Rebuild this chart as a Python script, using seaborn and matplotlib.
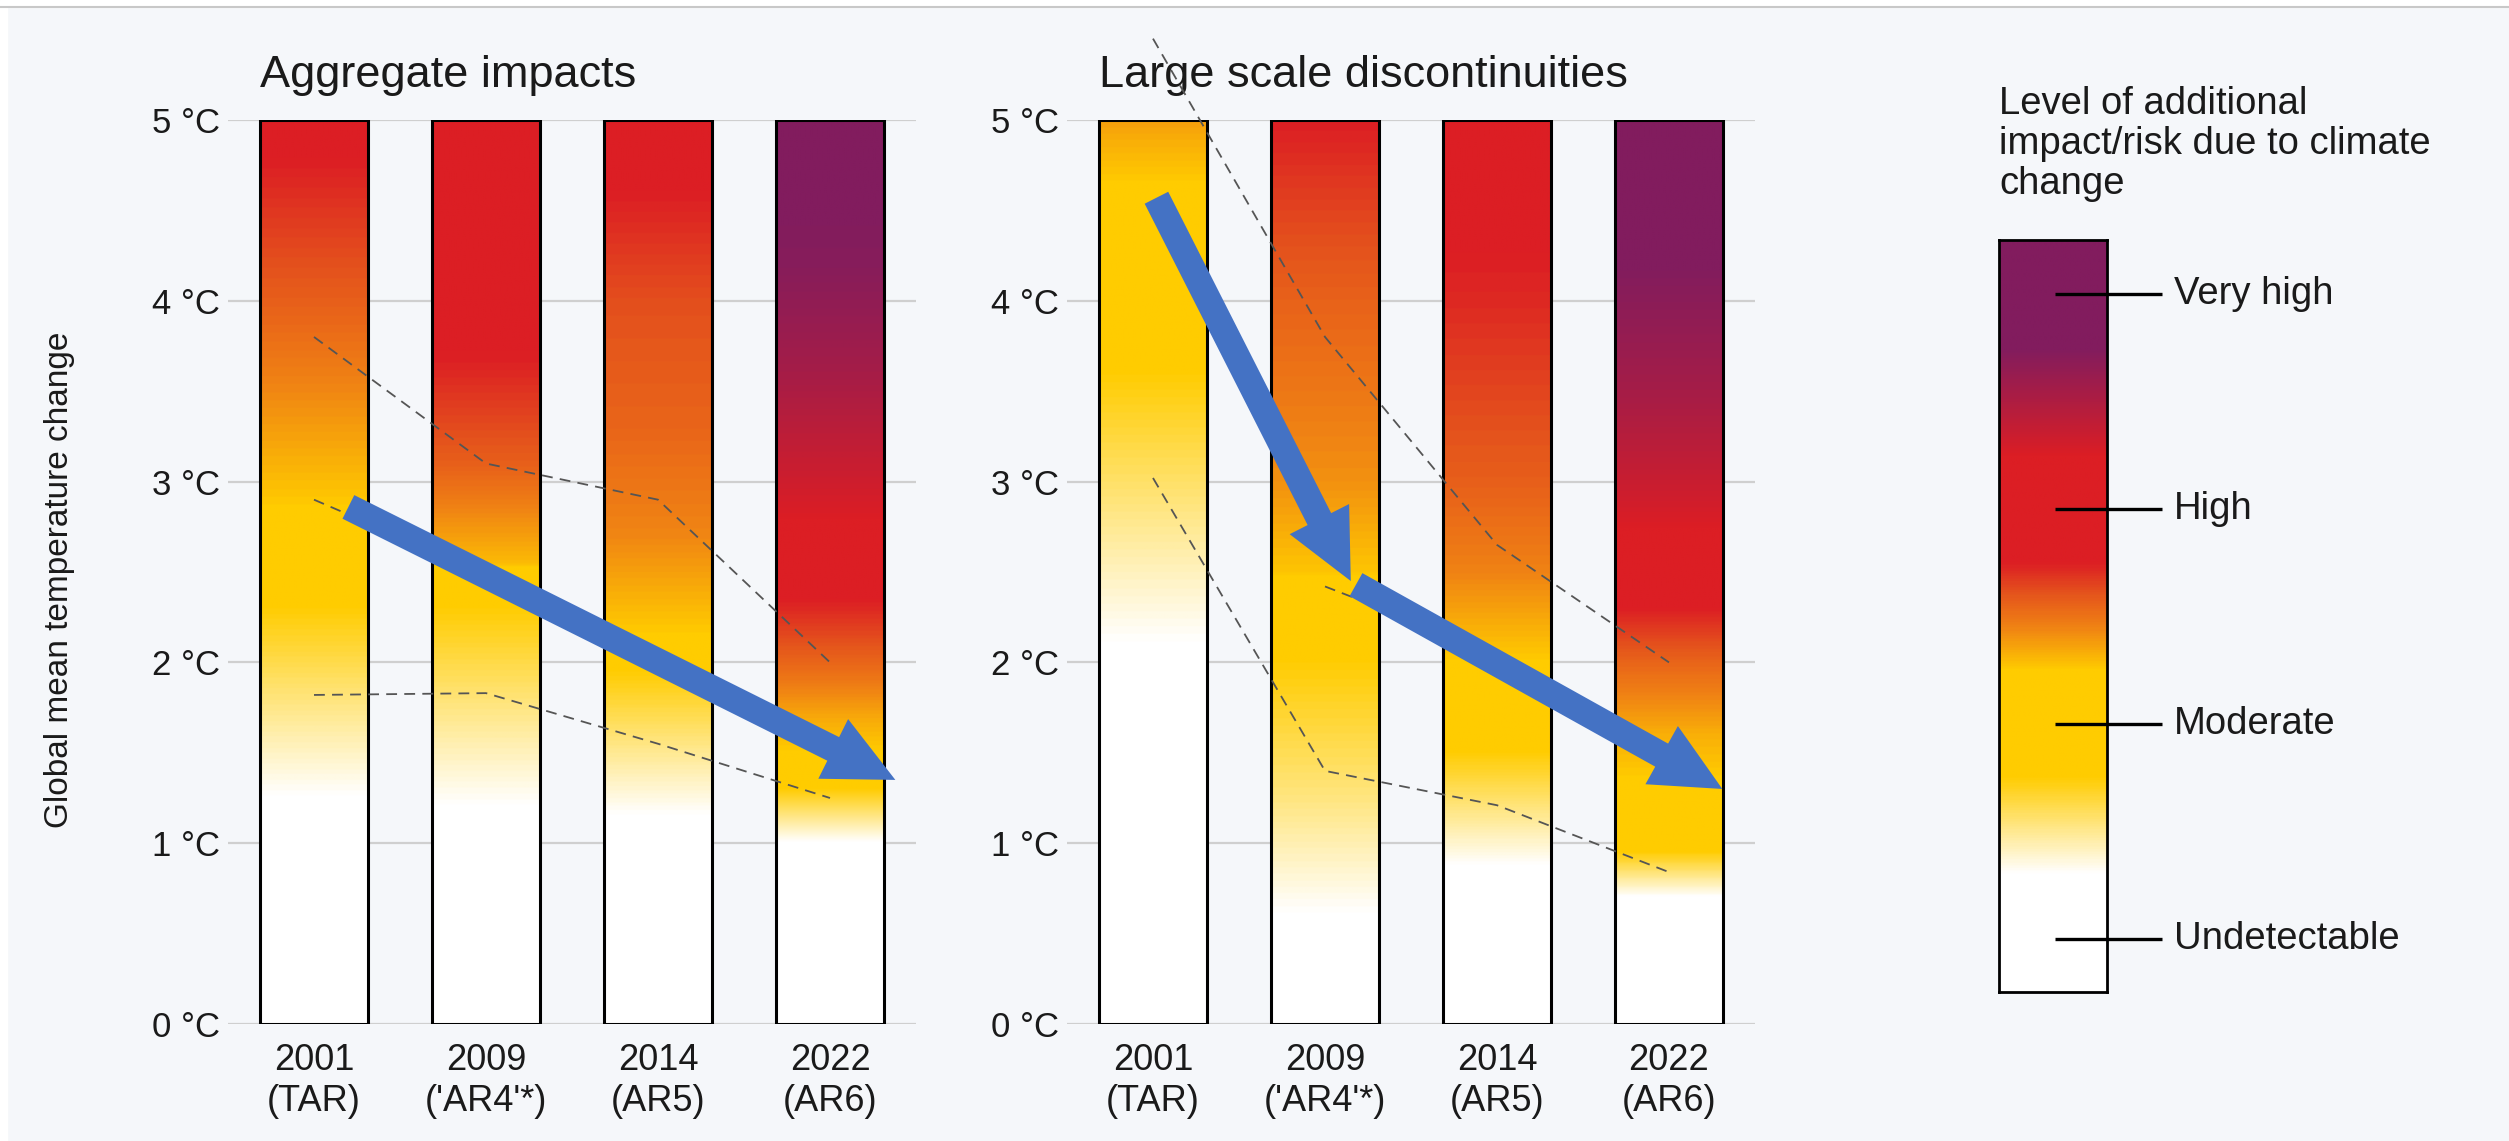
import numpy as np
import matplotlib
matplotlib.use("Agg")
import matplotlib.pyplot as plt
import seaborn as sns
from matplotlib.colors import LinearSegmentedColormap, Normalize
from matplotlib.patches import FancyArrowPatch, Rectangle
from matplotlib.lines import Line2D

# =============================================================================
# DATA
# =============================================================================

years = ["2001\n(TAR)", "2009\n('AR4'*)", "2014\n(AR5)", "2022\n(AR6)"]
temp_ticks = [0, 1, 2, 3, 4, 5]
bar_top = [5, 5, 5, 5]  # every bar spans 0-5 °C

risk_names = ["Undetectable", "Moderate", "High", "Very high"]
risk_values = [0, 1, 2, 3]

# risk colour scale: level -> colour
scale_levels = [0.0, 0.3, 0.75, 1.25, 1.45, 1.6, 1.75, 2.25, 2.75, 3.25]
scale_colors = ["#FFFFFF", "#FFFFFF", "#FFCC00", "#FFCC00", "#F08214",
                "#E5561C", "#DC1E24", "#DC1E24", "#821C5E", "#821C5E"]

# Aggregate impacts: temperature / risk level points
agg_temps = [
    [0, 1.25, 2.3, 2.85, 3.55, 4.0, 4.7, 5.0],
    [0, 1.2, 2.3, 2.55, 3.1, 3.7, 5.0],
    [0, 1.15, 1.95, 2.15, 2.7, 3.3, 4.0, 4.6, 5.0],
    [0, 1.0, 1.3, 1.5, 1.7, 2.0, 2.35, 2.8, 3.2, 3.6, 4.2, 5.0],
]
agg_risks = [
    [0, 0.3, 0.75, 1.25, 1.45, 1.57, 1.73, 1.8],
    [0, 0.3, 0.75, 1.3, 1.57, 1.75, 1.85],
    [0, 0.3, 0.75, 1.25, 1.44, 1.55, 1.62, 1.75, 1.8],
    [0, 0.3, 0.75, 1.25, 1.35, 1.55, 1.75, 2.25, 2.4, 2.55, 2.72, 2.8],
]
agg_upper = [3.8, 3.1, 2.9, 2.0]
agg_middle = [2.9, 2.49, 2.0, 1.52]
agg_lower = [1.82, 1.83, 1.55, 1.25]
agg_arrow_x = [[0.2, 3.38]]
agg_arrow_t = [[2.86, 1.35]]

# Large scale discontinuities
disc_temps = [
    [0, 2.1, 3.0, 3.6, 4.65, 5.0],
    [0, 0.6, 1.25, 2.0, 2.5, 3.0, 4.0, 4.4, 5.0],
    [0, 0.87, 1.5, 2.0, 2.5, 3.0, 4.0, 4.5, 5.0],
    [0, 0.7, 0.95, 1.35, 1.6, 2.0, 2.3, 2.75, 3.1, 3.5, 4.2, 5.0],
]
disc_risks = [
    [0, 0.3, 0.57, 0.75, 1.25, 1.37],
    [0, 0.3, 0.53, 0.75, 1.27, 1.41, 1.56, 1.63, 1.75],
    [0, 0.3, 0.75, 1.25, 1.45, 1.57, 1.72, 1.78, 1.85],
    [0, 0.3, 0.75, 1.25, 1.33, 1.55, 1.75, 2.25, 2.4, 2.55, 2.75, 2.8],
]
disc_upper = [5.45, 3.8, 2.65, 2.0]
disc_middle = [np.nan, 2.42, 2.05, 1.45]
disc_lower = [3.02, 1.40, 1.21, 0.84]
disc_arrow_x = [[0.02, 1.15], [1.18, 3.31]]
disc_arrow_t = [[4.57, 2.45], [2.43, 1.30]]

# =============================================================================
# STYLE
# =============================================================================

W, H = 2509, 1141
bg = "#F5F7FA"
ink = "#1A1A1A"
arrow_blue = "#4472C4"

sns.set_theme(style="white", rc={"axes.facecolor": "none",
                                 "figure.facecolor": bg,
                                 "text.color": ink,
                                 "xtick.color": ink,
                                 "ytick.color": ink})
plt.rcParams["font.family"] = ["Liberation Sans", "DejaVu Sans"]

risk_cmap = LinearSegmentedColormap.from_list(
    "risk", list(zip(np.array(scale_levels) / scale_levels[-1], scale_colors)))
risk_norm = Normalize(0, scale_levels[-1])

fig = plt.figure(figsize=(W / 100, H / 100), dpi=100)

# white strip + thin rule at the top, as in the page capture
fig.add_artist(Rectangle((0, 1 - 7 / H), 1, 7 / H, transform=fig.transFigure,
                         color="white", zorder=0))
fig.add_artist(Rectangle((0, 0), 7 / W, 1, transform=fig.transFigure,
                         color="white", zorder=0))
fig.add_artist(Line2D([0, 1], [1 - 7 / H, 1 - 7 / H], transform=fig.transFigure,
                      color="#C8C8C8", lw=1.5))

panels = [
    ("Aggregate impacts", 228, agg_temps, agg_risks,
     [agg_upper, agg_middle, agg_lower], agg_arrow_x, agg_arrow_t),
    ("Large scale discontinuities", 1067, disc_temps, disc_risks,
     [disc_upper, disc_middle, disc_lower], disc_arrow_x, disc_arrow_t),
]

bar_width = 0.63
grid_t = np.linspace(0, 5, 600)

for title, left_px, temps, risks, dashed, arr_x, arr_t in panels:
    ax = fig.add_axes([left_px / W, (H - 1024) / H, 688 / W, 904 / H])

    # bar outlines
    sns.barplot(x=years, y=bar_top, color="black", fill=False, width=bar_width,
                linewidth=2.2, errorbar=None, ax=ax, zorder=3)

    # colour gradient inside each bar
    for i in range(len(years)):
        level = np.interp(grid_t, temps[i], risks[i])
        ax.imshow(level[:, None], extent=(i - bar_width / 2, i + bar_width / 2, 0, 5),
                  origin="lower", aspect="auto", cmap=risk_cmap, norm=risk_norm,
                  interpolation="bilinear", zorder=1)

    # dashed transition lines
    for vals in dashed:
        vals = np.array(vals, dtype=float)
        keep = ~np.isnan(vals)
        sns.lineplot(x=[y for y, k in zip(years, keep) if k], y=vals[keep],
                     color="#555555", linewidth=1.3, linestyle=(0, (6, 4)),
                     errorbar=None, sort=False, ax=ax, zorder=4)
    for ln in ax.get_lines():
        ln.set_clip_on(False)

    # blue trend arrows
    for xs, ts in zip(arr_x, arr_t):
        ax.add_patch(FancyArrowPatch(
            (xs[0], ts[0]), (xs[1], ts[1]),
            arrowstyle="simple,head_length=50,head_width=48,tail_width=19",
            mutation_scale=1, color=arrow_blue, lw=0, shrinkA=0, shrinkB=0,
            zorder=6, clip_on=False))

    ax.set_xlim(-0.5, len(years) - 0.5)
    ax.set_ylim(0, 5)
    ax.set_yticks(temp_ticks)
    ax.set_yticklabels([f"{t} °C" for t in temp_ticks])
    ax.set(xlabel="", ylabel="")
    ax.set_axisbelow(True)
    ax.yaxis.grid(True, color="#CFCFCF", lw=1.6)
    ax.xaxis.grid(False)
    sns.despine(ax=ax, left=True, bottom=True)
    ax.tick_params(axis="y", length=0, pad=6, labelsize=25)
    ax.tick_params(axis="x", length=0, pad=14, labelsize=26)
    for lbl in ax.get_xticklabels():
        lbl.set_linespacing(1.2)

    ax.text(-bar_width / 2, 5.18, title, fontsize=32.5, ha="left", va="baseline")

fig.text(60 / W, 1 - 580 / H, "Global mean temperature change", rotation=90,
         ha="center", va="center", fontsize=24)

# =============================================================================
# LEGEND COLOUR SCALE
# =============================================================================

lo, hi = -0.245, 3.25
cax = fig.add_axes([1999 / W, (H - 992) / H, 108 / W, 752 / H])
cax.imshow(np.linspace(lo, hi, 600)[:, None], extent=(0, 1, lo, hi),
           origin="lower", aspect="auto", cmap=risk_cmap, norm=risk_norm,
           interpolation="bilinear")
cax.set_xlim(0, 1)
cax.set_ylim(lo, hi)
cax.set_xticks([])
cax.set_yticks([])
for sp in cax.spines.values():
    sp.set_visible(True)
    sp.set_color("black")
    sp.set_linewidth(2)

for val, name in zip(risk_values, risk_names):
    cax.plot([0.52, 1.51], [val, val], color="black", lw=2.4, clip_on=False,
             solid_capstyle="butt")
    cax.text(1.62, val, name, ha="left", va="center", fontsize=27.5)

fig.text(1999 / W, 1 - 86 / H,
         "Level of additional\nimpact/risk due to climate\nchange",
         ha="left", va="top", fontsize=27.5, linespacing=1.15)

fig.savefig("out.png", dpi=100)
